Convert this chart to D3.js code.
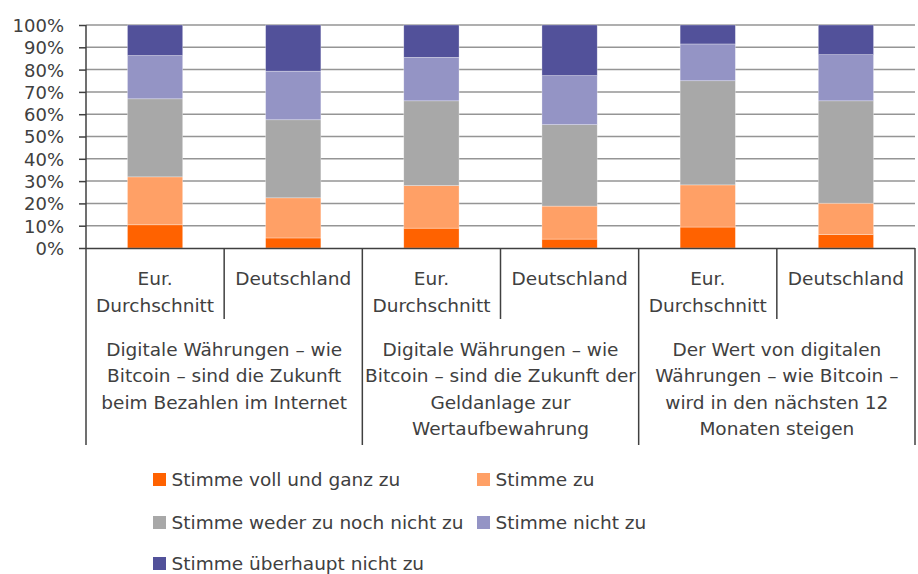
<!DOCTYPE html>
<html>
<head>
<meta charset="utf-8">
<script src="https://cdn.jsdelivr.net/npm/d3@7"></script>
<style>
	body { margin: 0; background: #fff; }
	svg text { font-family: "DejaVu Sans", sans-serif; fill: #404040; }
</style>
</head>
<body>
<svg width="918" height="574"></svg>
<script>
// sub categories (bars) and their group labels
var bars = [["Eur.", "Durchschnitt"], ["Deutschland"], ["Eur.", "Durchschnitt"], ["Deutschland"], ["Eur.", "Durchschnitt"], ["Deutschland"]];
var groups = [
	["Digitale Währungen – wie", "Bitcoin – sind die Zukunft", "beim Bezahlen im Internet"],
	["Digitale Währungen – wie", "Bitcoin – sind die Zukunft der", "Geldanlage zur", "Wertaufbewahrung"],
	["Der Wert von digitalen", "Währungen – wie Bitcoin –", "wird in den nächsten 12", "Monaten steigen"]
];
var seriesNames = ["Stimme voll und ganz zu", "Stimme zu", "Stimme weder zu noch nicht zu", "Stimme nicht zu", "Stimme überhaupt nicht zu"];
var seriesColors = ["#ff6200", "#ffa066", "#a8a8a8", "#9494c5", "#52519a"];

// shares in %
var vollUndGanz = [10.4, 4.5, 8.9, 4.0, 9.4, 6.0];
var zu = [21.5, 18.0, 19.1, 14.8, 18.9, 14.1];
var weder = [35.0, 35.0, 38.0, 36.5, 46.7, 45.9];
var nichtZu = [19.4, 21.8, 19.5, 22.0, 16.5, 20.7];
var ueberhauptNicht = [13.7, 20.7, 14.5, 22.7, 8.5, 13.3];

var yTicks = [0, 10, 20, 30, 40, 50, 60, 70, 80, 90, 100];

var svg = d3.select("svg");
var plotLeft = 86, plotRight = 915, plotTop = 25, plotBase = 248;

var table = bars.map(function(b, i) {
	return {i: i, s0: vollUndGanz[i], s1: zu[i], s2: weder[i], s3: nichtZu[i], s4: ueberhauptNicht[i]};
});
var keys = ["s0", "s1", "s2", "s3", "s4"];
var stacked = d3.stack().keys(keys)(table);

var x = d3.scaleBand().domain(d3.range(bars.length)).range([plotLeft, plotRight]).padding(0);
var y = d3.scaleLinear().domain([0, 100]).range([plotBase, plotTop]);
var barW = x.bandwidth() * 0.4;

// gridlines
svg.append("g")
	.selectAll("line")
	.data(yTicks.slice(1))
	.enter()
	.append("line")
	.attr("x1", plotLeft)
	.attr("x2", plotRight)
	.attr("y1", d => y(d))
	.attr("y2", d => y(d))
	.style("stroke", "#959595")
	.style("stroke-width", 1.5);

// y axis
var yAxis = svg.append("g")
	.attr("transform", "translate(" + plotLeft + ",0)")
	.call(d3.axisLeft(y).tickValues(yTicks).tickSize(7).tickPadding(15).tickFormat(d => d + "%"));
yAxis.select(".domain").remove();
yAxis.selectAll(".tick line").style("stroke", "#404040").style("stroke-width", 1.5);
yAxis.selectAll(".tick text").style("font-size", "18px").style("font-family", "DejaVu Sans").attr("fill", "#404040").attr("dy", "0.36em");

// bars
svg.append("g")
	.selectAll("g")
	.data(stacked)
	.enter()
	.append("g")
	.attr("fill", (d, i) => seriesColors[i])
	.selectAll("rect")
	.data(d => d)
	.enter()
	.append("rect")
	.attr("x", d => x(d.data.i) + (x.bandwidth() - barW) / 2)
	.attr("width", barW)
	.attr("y", d => y(d[1]))
	.attr("height", d => y(d[0]) - y(d[1]))
	.style("stroke", "#fff")
	.style("stroke-opacity", 0.5)
	.style("stroke-width", 0.6);

// category axis lines
var axisColor = "#404040";
svg.append("line")
	.attr("x1", plotLeft).attr("x2", plotRight)
	.attr("y1", plotBase + 0.5).attr("y2", plotBase + 0.5)
	.style("stroke", axisColor).style("stroke-width", 1.5);

svg.append("line")
	.attr("x1", plotLeft).attr("x2", plotLeft)
	.attr("y1", plotTop).attr("y2", 445)
	.style("stroke", axisColor).style("stroke-width", 1.5);

// separators: inner ones short, group ones long
d3.range(1, bars.length + 1).forEach(function(i) {
	var xx = i < bars.length ? x(i) : plotRight;
	var isGroup = i % 2 === 0;
	svg.append("line")
		.attr("x1", xx).attr("x2", xx)
		.attr("y1", plotBase).attr("y2", isGroup ? 445 : 319)
		.style("stroke", axisColor).style("stroke-width", 1.5);
});

// bar labels
svg.append("g")
	.selectAll("text")
	.data(bars)
	.enter()
	.append("text")
	.attr("text-anchor", "middle")
	.style("font-size", "18.5px")
	.attr("transform", (d, i) => "translate(" + (x(i) + x.bandwidth() / 2) + ",285)")
	.each(function(d) {
		var t = d3.select(this);
		d.forEach(function(line, k) {
			t.append("tspan").attr("x", 0).attr("y", k * 27).text(line);
		});
	});

// group labels
svg.append("g")
	.selectAll("text")
	.data(groups)
	.enter()
	.append("text")
	.attr("text-anchor", "middle")
	.style("font-size", "18.5px")
	.attr("transform", (d, i) => "translate(" + x(i * 2 + 1) + ",356)")
	.each(function(d) {
		var t = d3.select(this);
		d.forEach(function(line, k) {
			t.append("tspan").attr("x", 0).attr("y", k * 26.3).text(line);
		});
	});

// legend
var legendPos = [[153, 473], [477, 473], [153, 516], [477, 516], [153, 557]];
var legend = svg.append("g")
	.selectAll("g")
	.data(seriesNames)
	.enter()
	.append("g")
	.attr("transform", (d, i) => "translate(" + legendPos[i][0] + "," + legendPos[i][1] + ")");

legend.append("rect")
	.attr("width", 13)
	.attr("height", 13)
	.attr("fill", (d, i) => seriesColors[i]);

legend.append("text")
	.attr("x", 18.5)
	.attr("y", 13)
	.style("font-size", "18.5px")
	.text(d => d);
</script>
</body>
</html>
